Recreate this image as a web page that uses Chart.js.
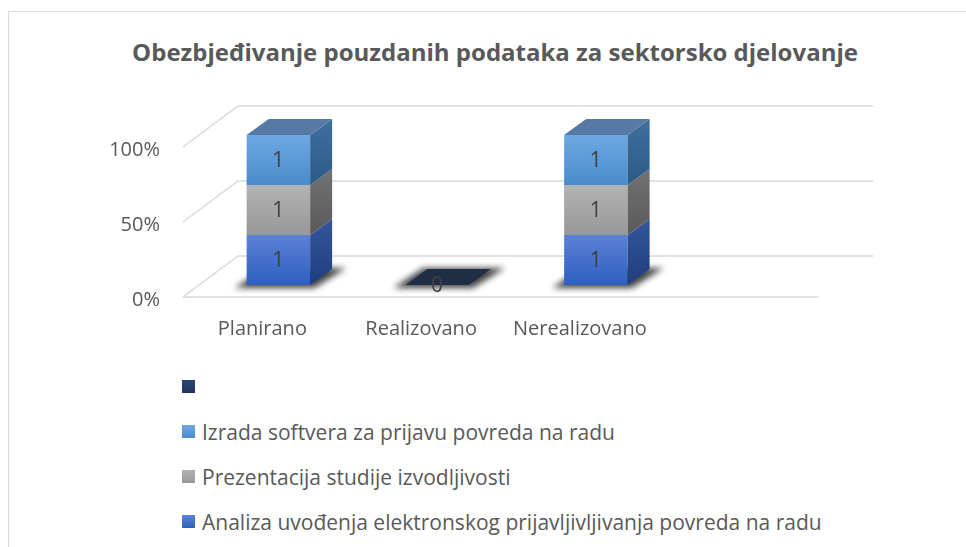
<!DOCTYPE html>
<html>
<head>
<meta charset="utf-8">
<script src="https://cdn.jsdelivr.net/npm/chart.js@4.4.1/dist/chart.umd.min.js"></script>
<style>
  html, body { margin: 0; padding: 0; background: #fff; width: 966px; height: 547px; overflow: hidden; }
  #frame { position: absolute; left: 8px; top: 11px; width: 1000px; height: 600px; border: 1px solid #d9d9d9; box-sizing: border-box; }
  #title { position: absolute; left: 95px; width: 800px; top: 36px; text-align: center; font-family: "Open Sans", sans-serif; font-size: 24px; font-weight: bold; color: #595959; line-height: 32px; white-space: nowrap; }
  #chart { position: absolute; left: 9px; top: 12px; }
  #legend { position: absolute; left: 182px; top: 364px; font-family: "Open Sans", sans-serif; font-size: 21px; color: #595959; }
  .lg-item { display: flex; align-items: center; height: 45px; white-space: nowrap; }
  .lg-box { width: 13px; height: 13px; margin-right: 7px; flex: none; }
</style>
</head>
<body>
<div id="frame"></div>
<div id="title">Obezbjeđivanje pouzdanih podataka za sektorsko djelovanje</div>
<canvas id="chart" width="972" height="340"></canvas>
<div id="legend"></div>
<script>
// ─── Data ───────────────────────────────────────────────────────────────────
const categories = ['Planirano', 'Realizovano', 'Nerealizovano', ''];
const seriesNames = [
  'Analiza uvođenja elektronskog prijavljivljivanja povreda na radu',
  'Prezentacija studije izvodljivosti',
  'Izrada softvera za prijavu povreda na radu',
  '',
];
const analiza      = [1, null, 1, null];
const prezentacija = [1, null, 1, null];
const izrada       = [1, null, 1, null];
const prazno       = [null, 0, null, null];
const yTicks = [0, 50, 100];

// ─── Styles (front gradient, side gradient, top face) ──────────────────────
const styles = [
  { front: ['#5c82d6', '#2e5fbf'], side: ['#34569c', '#1f3e7f'], top: '#3d62b0' },
  { front: ['#b3b3b3', '#989898'], side: ['#727272', '#5a5a5a'], top: '#8a8a8a' },
  { front: ['#6ea8e2', '#4a8bcc'], side: ['#3e709e', '#2c5a86'], top: '#567aa5' },
  { front: ['#2a4677', '#1e3560'], side: ['#1b2b48', '#152238'], top: '#1f2d45' },
];
const WALL  = { dx: 55, dy: -41 };  // back wall offset
const SHIFT = { dx: 16, dy: -12 };  // bar front plane offset
const DEPTH = { dx: 22, dy: -16 };  // bar depth

const rawSeries = [analiza, prezentacija, izrada, prazno];
const totals = categories.map((_, j) => rawSeries.reduce((s, arr) => s + (arr[j] || 0), 0));
const pct = arr => arr.map((v, j) => v == null ? null : (totals[j] ? v / totals[j] * 100 : 0));

// ─── 3D drawing plugin ─────────────────────────────────────────────────────
function poly(ctx, pts) {
  ctx.beginPath();
  ctx.moveTo(pts[0][0], pts[0][1]);
  pts.slice(1).forEach(p => ctx.lineTo(p[0], p[1]));
  ctx.closePath();
  ctx.fill();
}

const depthPlugin = {
  id: 'depth3d',
  beforeDatasetsDraw(chart) {
    const { ctx, chartArea: a, scales: { y } } = chart;
    ctx.save();
    ctx.strokeStyle = '#d9d9d9';
    ctx.lineWidth = 1.5;
    yTicks.forEach(v => {
      const py = y.getPixelForValue(v);
      ctx.beginPath();
      ctx.moveTo(a.left, py);
      ctx.lineTo(a.left + WALL.dx, py + WALL.dy);
      ctx.lineTo(a.right + WALL.dx, py + WALL.dy);
      ctx.stroke();
    });
    const y0 = y.getPixelForValue(0);
    ctx.beginPath();
    ctx.moveTo(a.left, y0);
    ctx.lineTo(a.right, y0);
    ctx.stroke();
    ctx.restore();
  },
  afterDatasetsDraw(chart) {
    const { ctx, scales: { y } } = chart;
    const y0 = y.getPixelForValue(0);
    ctx.save();
    categories.forEach((_, j) => {
      const segs = [];
      chart.data.datasets.forEach((ds, i) => {
        if (ds.raw[j] == null) return;
        segs.push({ ds, i, el: chart.getDatasetMeta(i).data[j] });
      });
      if (!segs.length) return;

      // floor shadow
      const e0 = segs[0].el;
      const fl = e0.x - e0.width / 2 + SHIFT.dx, fr = e0.x + e0.width / 2 + SHIFT.dx;
      const fy = y0 + SHIFT.dy;
      ctx.save();
      ctx.filter = 'blur(3px)';
      ctx.fillStyle = 'rgba(20,20,20,0.8)';
      poly(ctx, [[fl - 12, fy + 3], [fr + 4, fy + 3], [fr + DEPTH.dx + 14, fy + DEPTH.dy - 1], [fl + DEPTH.dx - 4, fy + DEPTH.dy - 1]]);
      ctx.restore();

      segs.forEach((s, k) => {
        const st = styles[s.i];
        const el = s.el;
        const l = el.x - el.width / 2 + SHIFT.dx, r = el.x + el.width / 2 + SHIFT.dx;
        const top = el.y + SHIFT.dy, bot = el.base + SHIFT.dy;
        if (bot - top > 0.5) {
          let g = ctx.createLinearGradient(0, top, 0, bot);
          g.addColorStop(0, st.front[0]); g.addColorStop(1, st.front[1]);
          ctx.fillStyle = g;
          ctx.fillRect(l, top, r - l, bot - top);
          g = ctx.createLinearGradient(0, top + DEPTH.dy, 0, bot);
          g.addColorStop(0, st.side[0]); g.addColorStop(1, st.side[1]);
          ctx.fillStyle = g;
          poly(ctx, [[r, top], [r + DEPTH.dx, top + DEPTH.dy], [r + DEPTH.dx, bot + DEPTH.dy], [r, bot]]);
        }
        if (k === segs.length - 1) {
          ctx.fillStyle = st.top;
          poly(ctx, [[l, top], [l + DEPTH.dx, top + DEPTH.dy], [r + DEPTH.dx, top + DEPTH.dy], [r, top]]);
        }
        ctx.fillStyle = '#404040';
        ctx.font = '21px "Open Sans", sans-serif';
        ctx.textAlign = 'center';
        ctx.textBaseline = 'middle';
        ctx.fillText(String(s.ds.raw[j]), (l + r) / 2, (top + bot) / 2 + 1);
      });
    });
    ctx.restore();
  },
};

// ─── Chart ─────────────────────────────────────────────────────────────────
const font = { family: '"Open Sans", sans-serif', size: 20 };
new Chart(document.getElementById('chart'), {
  type: 'bar',
  data: {
    labels: categories,
    datasets: rawSeries.map((arr, i) => ({
      label: seriesNames[i],
      data: pct(arr),
      raw: arr,
      backgroundColor: 'transparent',
      borderWidth: 0,
      barPercentage: 1,
      categoryPercentage: 0.4,
    })),
  },
  options: {
    responsive: false,
    animation: false,
    layout: { padding: { left: 0, right: 163, top: 135, bottom: 0 } },
    plugins: {
      legend: { display: false },
      tooltip: { enabled: false },
      title: { display: false },
    },
    scales: {
      x: {
        stacked: true,
        grid: { display: false, drawTicks: false },
        border: { display: false },
        ticks: { color: '#595959', font, padding: 20, maxRotation: 0 },
        afterFit: s => { s.height = 55; },
      },
      y: {
        stacked: true,
        min: 0,
        max: 100,
        grid: { display: false, drawTicks: false },
        border: { display: false },
        ticks: { stepSize: 50, color: '#595959', font, padding: 23, labelOffset: 3, callback: v => v + '%' },
        afterFit: s => { s.width = 174; },
      },
    },
  },
  plugins: [depthPlugin],
});

// ─── Legend (top series first, as in the original) ─────────────────────────
document.getElementById('legend').innerHTML = seriesNames.map((name, i) => ({ name, i }))
  .reverse()
  .map(({ name, i }) => `
    <div class="lg-item">
      <span class="lg-box" style="background:linear-gradient(${styles[i].front[0]}, ${styles[i].front[1]})"></span>
      <span>${name}</span>
    </div>`).join('');
</script>
</body>
</html>
